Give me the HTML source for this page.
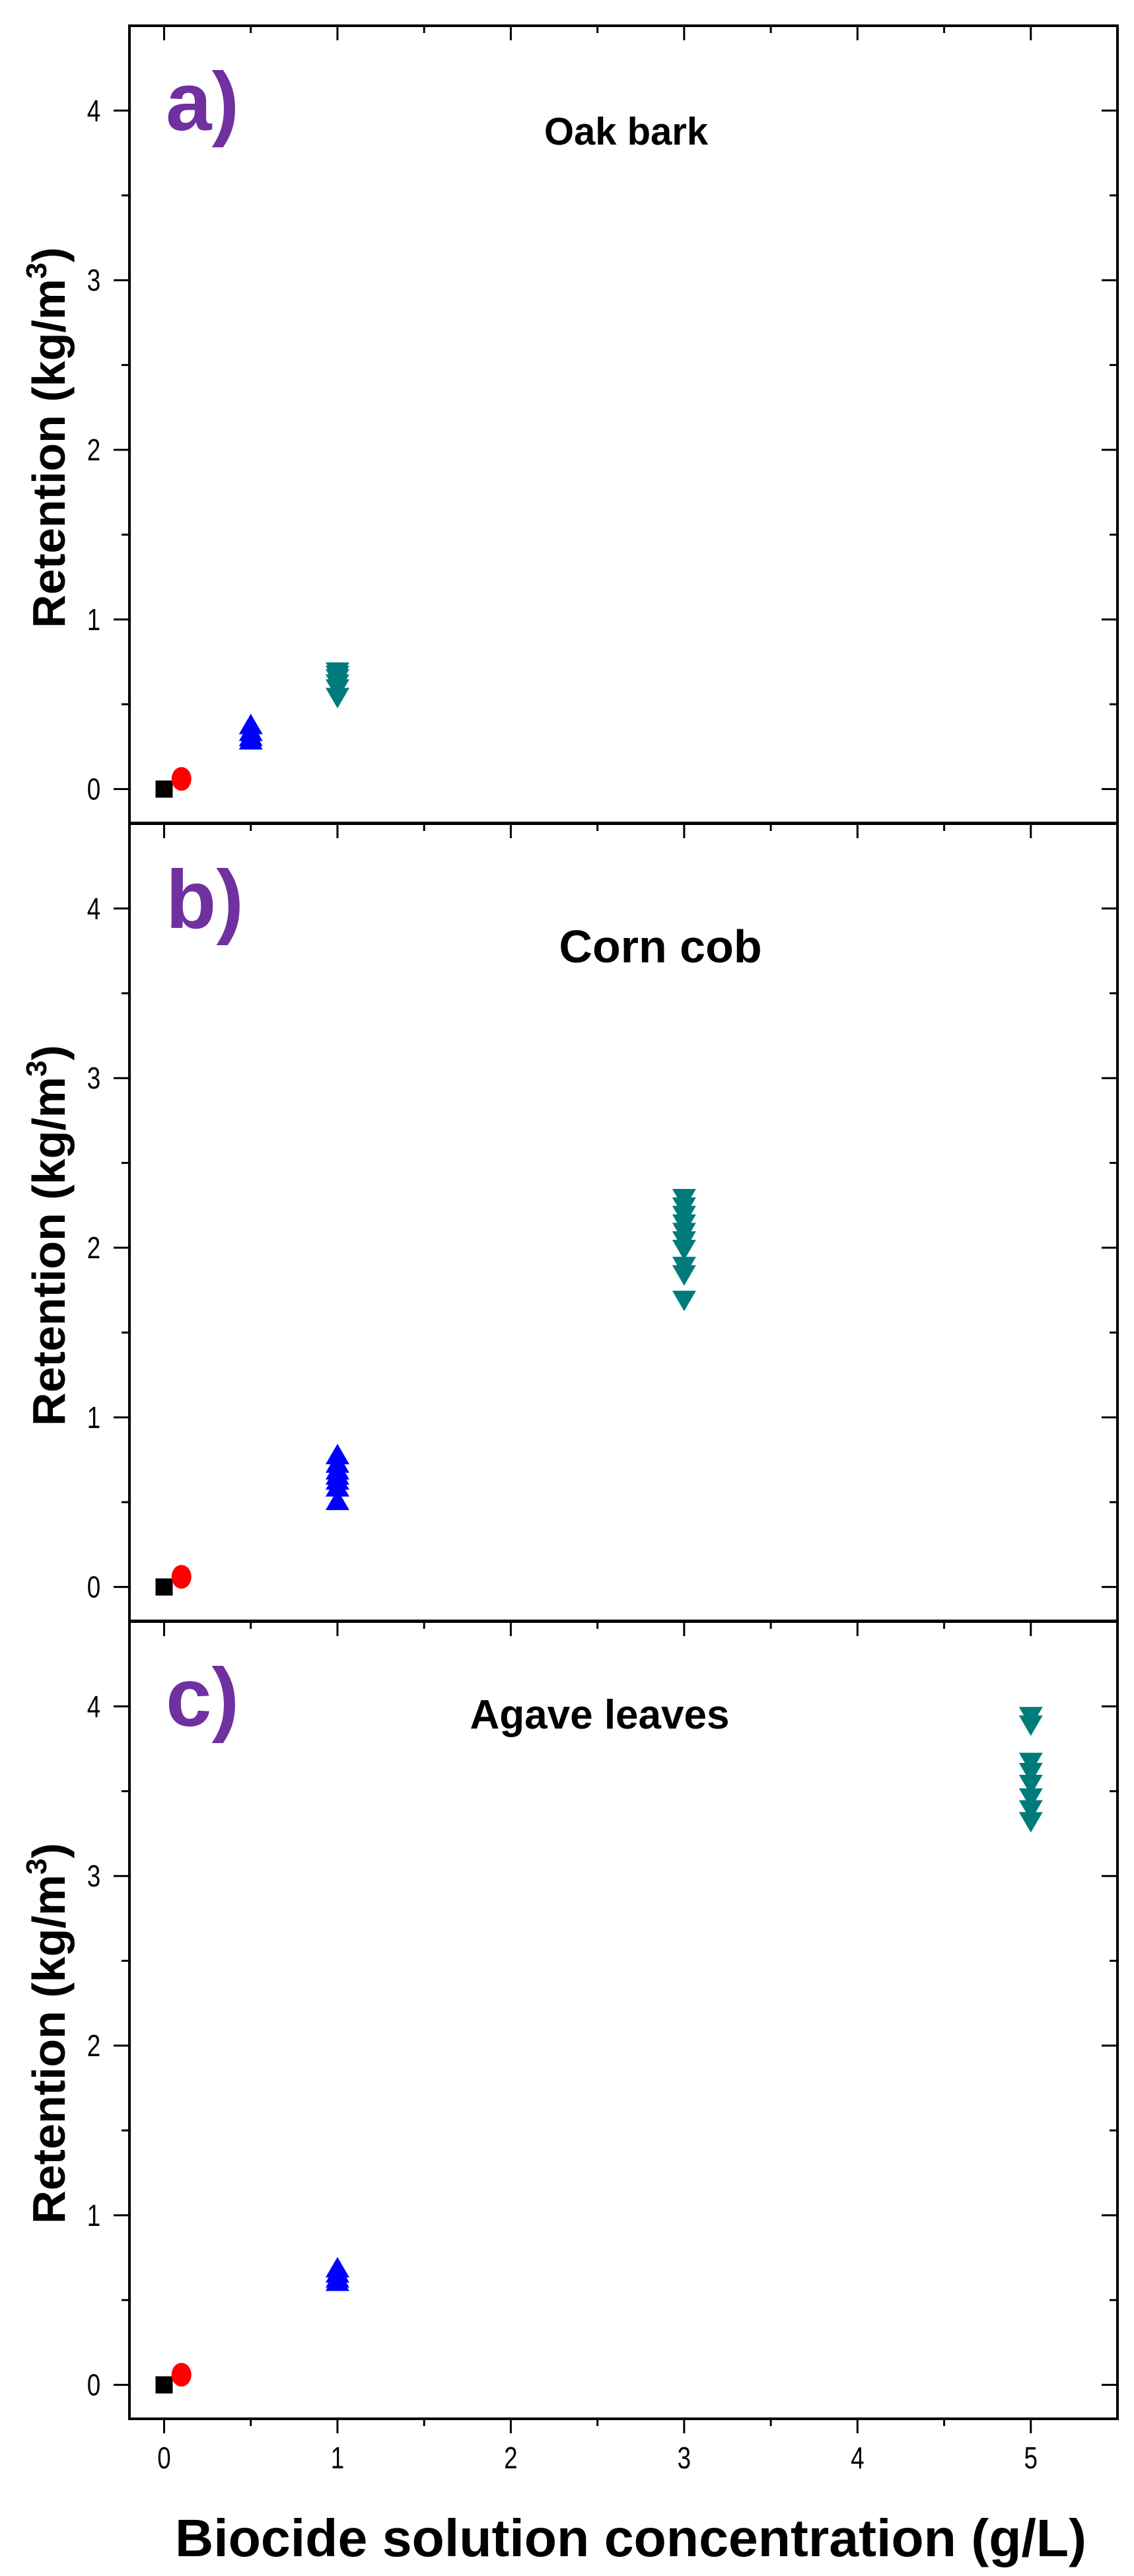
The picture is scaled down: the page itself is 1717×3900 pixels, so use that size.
<!DOCTYPE html>
<html><head><meta charset="utf-8"><style>
html,body{margin:0;padding:0;background:#fff;}
svg{display:block;}
text{font-family:"Liberation Sans",Arial,sans-serif;}
</style></head><body>
<svg id="chart" width="1717" height="3900" viewBox="0 0 1717 3900" xmlns="http://www.w3.org/2000/svg"></svg>
<script>
const panelNames = ["a)", "b)", "c)"];
const panelTitles = ["Oak bark", "Corn cob", "Agave leaves"];
const xTicks = [0, 1, 2, 3, 4, 5];
const yTicks = [0, 1, 2, 3, 4];
const controlX = [0, 0, 0];
const controlY = [0, 0, 0];
const lowX = [0.1, 0.1, 0.1];
const lowY = [0.06, 0.06, 0.06];
const midX = [0.5, 1, 1];
const midA = [0.37, 0.33, 0.30, 0.28];
const midB = [0.77, 0.72, 0.68, 0.65, 0.62, 0.58, 0.50];
const midC = [0.68, 0.65, 0.62, 0.60];
const highX = [1, 3, 5];
const highA = [0.70, 0.68, 0.66, 0.63, 0.60, 0.55];
const highB = [2.30, 2.25, 2.20, 2.15, 2.10, 2.05, 2.00, 1.90, 1.85, 1.70];
const highC = [3.95, 3.90, 3.68, 3.62, 3.55, 3.47, 3.40, 3.33];

const NS = "http://www.w3.org/2000/svg";
const svg = document.getElementById("chart");
function mk(tag, attrs, parent) {
  const e = document.createElementNS(NS, tag);
  for (const k in attrs) e.setAttribute(k, attrs[k]);
  (parent || svg).appendChild(e);
  return e;
}
const L = 196, R = 1692;
const xMin = -0.2, xMax = 5.5;
const panelTops = [39, 1247, 2455];
const panelH = 1207;
const yMin = -0.2, yMax = 4.5;
function xs(v) { return L + (v - xMin) / (xMax - xMin) * (R - L); }
function ysFn(p) { const t = panelTops[p]; return v => t + panelH - (v - yMin) / (yMax - yMin) * panelH; }

const midSets = [midA, midB, midC];
const highSets = [highA, highB, highC];

for (let p = 0; p < 3; p++) {
  const ys = ysFn(p);
  const top = panelTops[p], bot = top + panelH;
  const g = mk("g", {});
  
  
  const frame = mk("rect", {x: L, y: top, width: R - L, height: panelH, fill: "none", stroke: "#000", "stroke-width": 4}, g);
  
  
  for (let v = 0; v <= 5.001; v += 0.5) {
    const major = Math.abs(v - Math.round(v)) < 1e-6;
    const len = major ? 22 : 11;
    const t1 = mk("line", {x1: xs(v), x2: xs(v), y1: top, y2: top + len, stroke: "#000", "stroke-width": 3}, g);
    
    
    if (p === 2) {
      const t2 = mk("line", {x1: xs(v), x2: xs(v), y1: bot, y2: bot + len, stroke: "#000", "stroke-width": 3}, g);
      
      
    }
  }
  for (let v = 0; v <= 4.001; v += 0.5) {
    const major = Math.abs(v - Math.round(v)) < 1e-6;
    const len = major ? 24 : 12;
    const a = mk("line", {x1: L - len, x2: L, y1: ys(v), y2: ys(v), stroke: "#000", "stroke-width": 3}, g);
    
    
    const b = mk("line", {x1: R - len, x2: R, y1: ys(v), y2: ys(v), stroke: "#000", "stroke-width": 3}, g);
    
    
  }
  yTicks.forEach(v => {
    const t = mk("text", {x: 142, y: ys(v) + 16, "font-size": 46, "text-anchor": "middle", transform: `translate(142 0) scale(0.8 1) translate(-142 0)`}, g);
    t.textContent = v;
    
    
  });
  const yt = mk("text", {x: 0, y: 0, "font-size": 70, "font-weight": "bold", "text-anchor": "middle", transform: `translate(98 ${top + panelH / 2 + 20}) rotate(-90)`}, g);
  yt.innerHTML = 'Retention (kg/m<tspan font-size="44" dy="-28">3</tspan><tspan dy="28">)</tspan>';
  
  
  const lab = mk("text", {x: 251, y: top + 158, "font-size": 125, "font-weight": "bold", fill: "#7030a0"}, g);
  lab.textContent = panelNames[p];
  
  
  const tsz = [58, 70, 62][p];
  const tx = [948, 1000, 908][p];
  const ty = [180, 210, 162][p];
  const ttl = mk("text", {x: tx, y: top + ty, "font-size": tsz, "font-weight": "bold", "text-anchor": "middle"}, g);
  ttl.textContent = panelTitles[p];
  
  

  const sq = mk("rect", {x: xs(controlX[p]) - 13, y: ys(controlY[p]) - 13, width: 26, height: 26, fill: "#000"}, g);
  
  
  const ci = mk("ellipse", {cx: xs(lowX[p]), cy: ys(lowY[p]), rx: 15, ry: 18, fill: "#ff0000"}, g);
  
  
  midSets[p].forEach(v => {
    const cx = xs(midX[p]), cy = ys(v);
    const tr = mk("polygon", {points: `${cx},${cy - 19} ${cx + 18},${cy + 12} ${cx - 18},${cy + 12}`, fill: "#0000ff"}, g);
    
    
  });
  highSets[p].forEach(v => {
    const cx = xs(highX[p]), cy = ys(v);
    const tr = mk("polygon", {points: `${cx - 18},${cy - 12} ${cx + 18},${cy - 12} ${cx},${cy + 19}`, fill: "#007b7b"}, g);
    
    
  });
}
xTicks.forEach(v => {
  const t = mk("text", {x: xs(v), y: 3737, "font-size": 46, "text-anchor": "middle", transform: `translate(${xs(v)} 0) scale(0.8 1) translate(${-xs(v)} 0)`});
  t.textContent = v;
  
  
});
const xt = mk("text", {x: 955, y: 3870, "font-size": 80, "font-weight": "bold", "text-anchor": "middle", textLength: 1380, lengthAdjust: "spacingAndGlyphs"});
xt.textContent = "Biocide solution concentration (g/L)";


</script>
</body></html>
